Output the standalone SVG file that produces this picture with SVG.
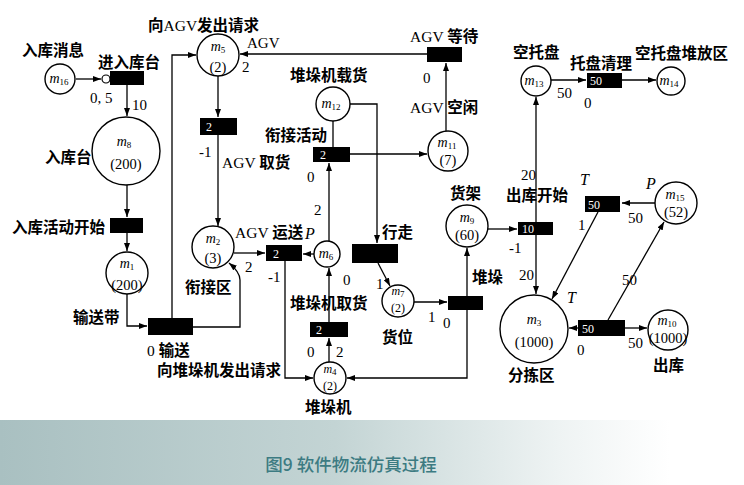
<svg xmlns="http://www.w3.org/2000/svg" width="744" height="485" viewBox="0 0 744 485">
<defs>
<marker id="ah" markerWidth="8" markerHeight="6" refX="8" refY="3" orient="auto" markerUnits="userSpaceOnUse"><path d="M0,0 L8,3 L0,6 z" fill="#000"/></marker>
<linearGradient id="band" x1="0" y1="0" x2="1" y2="0">
<stop offset="0" stop-color="#a9c0c1"/>
<stop offset="0.45" stop-color="#c3d4d4"/>
<stop offset="0.75" stop-color="#eef3f3"/>
<stop offset="0.9" stop-color="#ffffff"/>
</linearGradient>
<style>
.p{fill:#fff;stroke:#000;stroke-width:1.4}
.t{fill:#000}
.c{fill:none;stroke:#000;stroke-width:1.3}
.lb{font-family:"Liberation Serif","Noto Sans CJK SC",serif;font-size:15.5px;fill:#000}
.cj{font-family:"Noto Sans CJK SC","Noto Sans CJK JP",sans-serif;font-weight:bold}
.n{font-family:"Liberation Serif",serif;font-size:15px;fill:#000}
.it{font-family:"Liberation Serif",serif;font-size:16px;font-style:italic;fill:#000}
.m{font-family:"Liberation Serif",serif;font-size:14px;font-style:italic;text-anchor:middle;fill:#000}
.s{font-size:9px;font-style:normal}
.k{font-family:"Liberation Serif",serif;font-size:14.5px;text-anchor:middle;fill:#000}
.sm{font-size:12px}
.w{font-family:"Liberation Serif",serif;font-size:12px;fill:#fff}
.cap{font-family:"Noto Sans CJK SC",sans-serif;font-size:17.5px;font-weight:500;fill:#3c7b82;text-anchor:middle}
</style>
</defs>
<rect x="0" y="0" width="744" height="485" fill="#fff"/>
<rect x="0" y="420" width="744" height="65" fill="url(#band)"/>
<text class="cap" x="351" y="471">图9  软件物流仿真过程</text>

<g id="connectors">
<path class="c" d="M76,79 H101" marker-end="url(#ah)"/>
<circle cx="106" cy="79" r="4" fill="#fff" stroke="#000" stroke-width="1.2"/>
<path class="c" d="M127,85 V116" marker-end="url(#ah)"/>
<path class="c" d="M127,185 V217" marker-end="url(#ah)"/>
<path class="c" d="M127,233 V251" marker-end="url(#ah)"/>
<path class="c" d="M127,294 V326 H147" marker-end="url(#ah)"/>
<path class="c" d="M172,318 V55 H196" marker-end="url(#ah)"/>
<path class="c" d="M193,327 H240 V280 Q240,272 229,263" marker-end="url(#ah)"/>
<path class="c" d="M218,76 V117" marker-end="url(#ah)"/>
<path class="c" d="M218,135 V226" marker-end="url(#ah)"/>
<path class="c" d="M427,54 H240" marker-end="url(#ah)"/>
<path class="c" d="M446,131 V63" marker-end="url(#ah)"/>
<path class="c" d="M350,154 H427" marker-end="url(#ah)"/>
<path class="c" d="M333,147 V121"/>
<path class="c" d="M350,104 H377 V243" marker-end="url(#ah)"/>
<path class="c" d="M329,241 V163" marker-end="url(#ah)"/>
<path class="c" d="M234,253 H265" marker-end="url(#ah)"/>
<path class="c" d="M314,254 H303" marker-end="url(#ah)"/>
<path class="c" d="M329,322 V268" marker-end="url(#ah)"/>
<path class="c" d="M329,362 V338" marker-end="url(#ah)"/>
<path class="c" d="M285,261 V378 H313" marker-end="url(#ah)"/>
<path class="c" d="M467,310 V378 H347" marker-end="url(#ah)"/>
<path class="c" d="M467,296 V248" marker-end="url(#ah)"/>
<path class="c" d="M378,263 L390,286" marker-end="url(#ah)"/>
<path class="c" d="M414,302 H447" marker-end="url(#ah)"/>
<path class="c" d="M488,229 H517" marker-end="url(#ah)"/>
<path class="c" d="M536,222 V97" marker-end="url(#ah)"/>
<path class="c" d="M536,235 V294" marker-end="url(#ah)"/>
<path class="c" d="M551,80 H586" marker-end="url(#ah)"/>
<path class="c" d="M622,80 H656" marker-end="url(#ah)"/>
<path class="c" d="M655,203 H622" marker-end="url(#ah)"/>
<path class="c" d="M598,212 L552,299" marker-end="url(#ah)"/>
<path class="c" d="M578,328 H569" marker-end="url(#ah)"/>
<path class="c" d="M625,328 H647" marker-end="url(#ah)"/>
<path class="c" d="M608,320 L664,222" marker-end="url(#ah)"/>
</g>

<g id="m16"><circle class="p" cx="60" cy="79" r="15"/><text class="m" x="59" y="83">m<tspan class="s" dy="2">16</tspan></text><text class="lb cj" x="22" y="56">入库消息</text></g>
<g id="t-jinru"><rect class="t" x="110" y="71" width="34" height="14"/><text class="lb cj" x="98" y="68">进入库台</text><text class="n" x="90" y="103">0, 5</text><text class="n" x="132" y="110">10</text></g>
<g id="m8"><circle class="p" cx="126" cy="151" r="34"/><text class="m" x="124" y="146">m<tspan class="s" dy="2">8</tspan></text><text class="k" x="126" y="169">(200)</text><text class="lb cj" x="45" y="163">入库台</text></g>
<g id="t-rukustart"><rect class="t" x="110" y="218" width="33" height="15"/><text class="lb cj" x="12" y="233">入库活动开始</text></g>
<g id="m1"><circle class="p" cx="127" cy="273" r="21"/><text class="m" x="127" y="268">m<tspan class="s" dy="2">1</tspan></text><text class="k" x="127" y="290">(200)</text><text class="lb cj" x="73" y="323">输送带</text></g>
<g id="t-shusong"><rect class="t" x="148" y="318" width="45" height="17"/><text class="lb" x="147" y="356">0 <tspan class="cj">输送</tspan></text><text class="lb cj" x="157" y="376">向堆垛机发出请求</text></g>
<g id="m5"><circle class="p" cx="218" cy="55" r="21"/><text class="m" x="218" y="51">m<tspan class="s" dy="2">5</tspan></text><text class="k" x="218" y="72">(2)</text><text class="lb" x="148" y="31"><tspan class="cj">向</tspan>AGV<tspan class="cj">发出请求</tspan></text><text class="n" x="247" y="48">AGV</text><text class="n" x="242" y="72">2</text></g>
<g id="t-agvqu"><rect class="t" x="200" y="118" width="37" height="17"/><text class="w" x="206" y="131">2</text><text class="n" x="199" y="157">-1</text><text class="lb" x="222" y="168">AGV <tspan class="cj">取货</tspan></text></g>
<g id="m2"><circle class="p" cx="213" cy="247" r="21"/><text class="m" x="213" y="243">m<tspan class="s" dy="2">2</tspan></text><text class="k" x="213" y="263">(3)</text><text class="lb cj" x="185" y="293">衔接区</text></g>
<g id="t-agvdeng"><rect class="t" x="427" y="47" width="35" height="15"/><text class="lb" x="410" y="42">AGV <tspan class="cj">等待</tspan></text><text class="n" x="423" y="83">0</text></g>
<g id="m11"><circle class="p" cx="448" cy="151" r="20"/><text class="m" x="447" y="147">m<tspan class="s" dy="2">11</tspan></text><text class="k" x="448" y="165">(7)</text><text class="lb" x="410" y="113">AGV <tspan class="cj">空闲</tspan></text></g>
<g id="m12"><circle class="p" cx="333" cy="104" r="17"/><text class="m" x="331" y="108">m<tspan class="s" dy="2">12</tspan></text><text class="lb cj" x="290" y="81">堆垛机载货</text></g>
<g id="t-xianjie"><rect class="t" x="313" y="147" width="37" height="15"/><text class="w" x="320" y="159">2</text><text class="lb cj" x="265" y="141">衔接活动</text><text class="n" x="307" y="182">0</text><text class="n" x="314" y="215">2</text></g>
<g id="t-agvyun"><rect class="t" x="266" y="245" width="36" height="16"/><text class="w" x="273" y="258">2</text><text class="lb" x="235" y="238">AGV <tspan class="cj">运送</tspan></text><text class="n" x="245" y="272">2</text><text class="n" x="268" y="282">-1</text></g>
<g id="m6"><circle class="p" cx="327" cy="254" r="13"/><text class="m" x="326" y="258">m<tspan class="s" dy="2">6</tspan></text><text class="it" x="305" y="239">P</text><text class="n" x="343" y="285">0</text></g>
<g id="t-xingzou"><rect class="t" x="352" y="244" width="46" height="19"/><text class="lb cj" x="382" y="238">行走</text><text class="n" x="376" y="289">1</text></g>
<g id="m7"><circle class="p" cx="398" cy="301" r="16"/><text class="m sm" x="398" y="295">m<tspan class="s" dy="2">7</tspan></text><text class="k sm" x="398" y="312">(2)</text><text class="lb cj" x="382" y="343">货位</text></g>
<g id="t-duiduoqu"><rect class="t" x="310" y="322" width="38" height="15"/><text class="w" x="316" y="334">2</text><text class="lb cj" x="290" y="309">堆垛机取货</text><text class="n" x="307" y="357">0</text><text class="n" x="336" y="357">2</text></g>
<g id="m4"><circle class="p" cx="330" cy="378" r="16"/><text class="m sm" x="330" y="373">m<tspan class="s" dy="2">4</tspan></text><text class="k sm" x="330" y="390">(2)</text><text class="lb cj" x="305" y="413">堆垛机</text></g>
<g id="t-duiduo"><rect class="t" x="448" y="296" width="35" height="14"/><text class="lb cj" x="472" y="283">堆垛</text><text class="n" x="428" y="322">1</text><text class="n" x="443" y="328">0</text></g>
<g id="m9"><circle class="p" cx="467" cy="226" r="21"/><text class="m" x="467" y="222">m<tspan class="s" dy="2">9</tspan></text><text class="k" x="467" y="240">(60)</text><text class="lb cj" x="450" y="199">货架</text></g>
<g id="t-chukustart"><rect class="t" x="518" y="222" width="35" height="13"/><text class="w" x="522" y="233">10</text><text class="lb cj" x="506" y="201">出库开始</text><text class="n" x="509" y="253">-1</text><text class="n" x="519" y="280">20</text><text class="n" x="521" y="180">20</text></g>
<g id="m13"><circle class="p" cx="536" cy="81" r="15"/><text class="m" x="534" y="85">m<tspan class="s" dy="2">13</tspan></text><text class="lb cj" x="513" y="58">空托盘</text></g>
<g id="t-tuopan"><rect class="t" x="587" y="73" width="35" height="15"/><text class="w" x="590" y="85">50</text><text class="lb cj" x="570" y="69">托盘清理</text><text class="n" x="557" y="98">50</text><text class="n" x="584" y="108">0</text></g>
<g id="m14"><circle class="p" cx="671" cy="81" r="14"/><text class="m" x="669" y="85">m<tspan class="s" dy="2">14</tspan></text><text class="lb cj" x="635" y="59">空托盘堆放区</text></g>
<g id="m3"><circle class="p" cx="534" cy="329" r="34"/><text class="m" x="534" y="324">m<tspan class="s" dy="2">3</tspan></text><text class="k" x="534" y="347">(1000)</text><text class="lb cj" x="508" y="381">分拣区</text></g>
<g id="t-upper"><rect class="t" x="585" y="196" width="35" height="16"/><text class="w" x="588" y="209">50</text><text class="it" x="580" y="185">T</text><text class="n" x="628" y="223">50</text><text class="n" x="578" y="230">1</text></g>
<g id="m15"><circle class="p" cx="676" cy="203" r="21"/><text class="m" x="675" y="199">m<tspan class="s" dy="2">15</tspan></text><text class="k" x="676" y="217">(52)</text><text class="it" x="646" y="189">P</text></g>
<g id="t-lower"><rect class="t" x="578" y="320" width="47" height="16"/><text class="w" x="582" y="333">50</text><text class="it" x="567" y="303">T</text><text class="n" x="622" y="285">50</text><text class="n" x="577" y="355">0</text><text class="n" x="628" y="348">50</text></g>
<g id="m10"><circle class="p" cx="668" cy="330" r="20"/><text class="m" x="667" y="325">m<tspan class="s" dy="2">10</tspan></text><text class="k" x="668" y="343">(1000)</text><text class="lb cj" x="653" y="371">出库</text></g>
</svg>
